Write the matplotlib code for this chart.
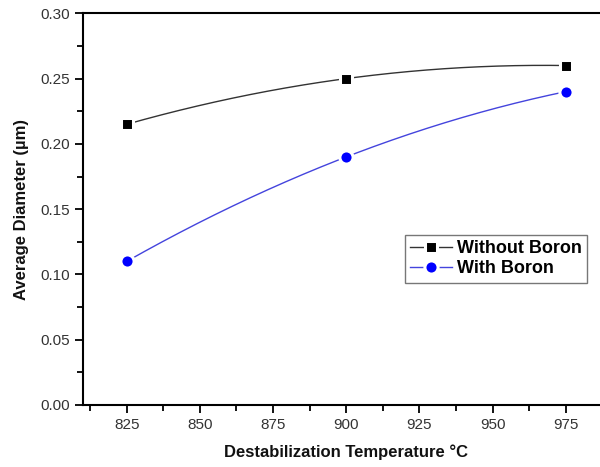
import numpy as np
import matplotlib
matplotlib.use("Agg")
import matplotlib.pyplot as plt
from matplotlib.ticker import MultipleLocator

plt.rcParams['font.family'] = ['Liberation Sans', 'DejaVu Sans']

temps = [825, 900, 975]
without_boron = [0.215, 0.25, 0.26]
with_boron = [0.11, 0.19, 0.24]

fig = plt.figure(figsize=(6.0, 4.67), dpi=100)
ax = fig.add_axes([0.138, 0.1328, 0.878, 0.8387])

def smooth(x, y):
    coef = np.polyfit(x, y, 2)
    xs = np.linspace(min(x), max(x), 200)
    return xs, np.polyval(coef, xs)

xs, ys = smooth(temps, without_boron)
ax.plot(xs, ys, color='#333333', lw=1.0, zorder=2)
xs, ys = smooth(temps, with_boron)
ax.plot(xs, ys, color='#4444dd', lw=1.0, zorder=2)

# markers with a white rim leave a small gap where the curve meets them
ax.plot(temps, without_boron, ls='none', marker='s', ms=8.5, mfc='black',
        mec='white', mew=2.2, zorder=3)
ax.plot(temps, with_boron, ls='none', marker='o', ms=9.5, mfc='#0000ff',
        mec='white', mew=2.2, zorder=3)

h1, = ax.plot([], [], color='#333333', lw=1.0, marker='s', ms=8.5, mfc='black',
              mec='white', mew=2.2, label='Without Boron')
h2, = ax.plot([], [], color='#4444dd', lw=1.0, marker='o', ms=9.5, mfc='#0000ff',
              mec='white', mew=2.2, label='With Boron')
leg = ax.legend(handles=[h1, h2], loc='upper left', bbox_to_anchor=(0.611, 0.434),
                frameon=True, fancybox=False, edgecolor='#555555',
                prop={'weight': 'bold', 'size': 13}, handlelength=2.3,
                handletextpad=0.3, borderpad=0.3, labelspacing=0.15,
                borderaxespad=0)
leg.get_frame().set_linewidth(1.0)

ax.set_xlim(810, 990)
ax.set_ylim(0.0, 0.30)
ax.xaxis.set_major_locator(MultipleLocator(25))
ax.xaxis.set_minor_locator(MultipleLocator(12.5))
ax.yaxis.set_major_locator(MultipleLocator(0.05))
ax.yaxis.set_minor_locator(MultipleLocator(0.025))
ax.yaxis.set_major_formatter(plt.FormatStrFormatter('%.2f'))

ax.tick_params(which='both', direction='out', color='black', width=1.3,
               labelsize=11, labelcolor='#333333')
ax.tick_params(which='major', length=6)
ax.tick_params(which='minor', length=4)
ax.tick_params(axis='x', which='both', top=False)
ax.tick_params(axis='y', which='both', right=False)
for s in ax.spines.values():
    s.set_linewidth(1.5)

ax.set_xlabel('Destabilization Temperature °C', fontsize=12, fontweight='bold',
              color='#111111', labelpad=9)
ax.set_ylabel('Average Diameter (µm)', fontsize=12, fontweight='bold',
              color='#111111', labelpad=8)

fig.savefig('out.png', dpi=100)
